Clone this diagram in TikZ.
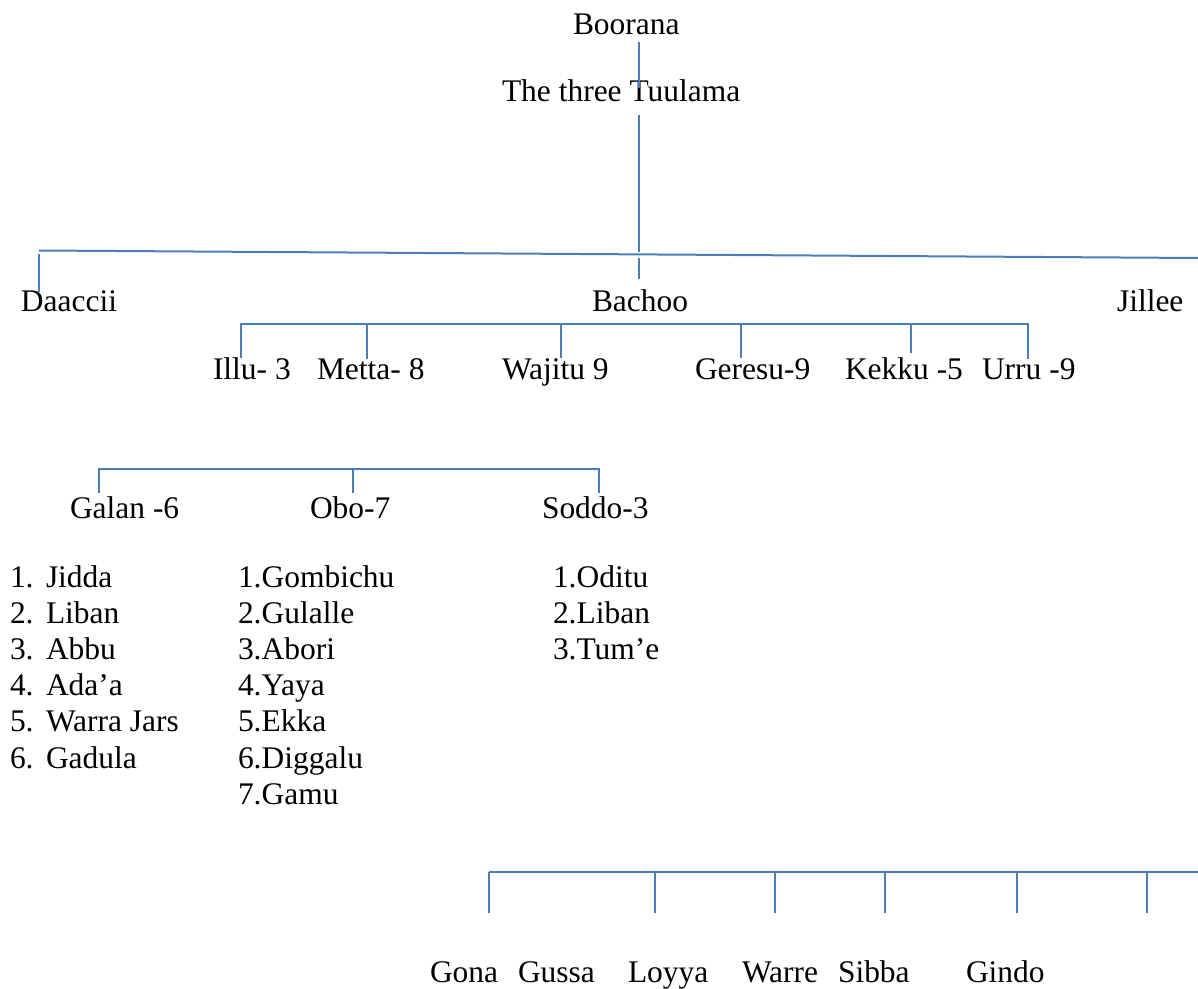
\documentclass[tikz,border=0pt]{standalone}
\usepackage{fontspec}
\setmainfont{Liberation Serif}
\definecolor{linkblue}{RGB}{74,126,187}
\begin{document}
\begin{tikzpicture}[x=0.75pt,y=-0.75pt,
  lbl/.style={anchor=base west,inner sep=0pt,outer sep=0pt,font=\fontsize{23.6}{28}\selectfont},
  link/.style={draw=linkblue,line width=1.5pt,line cap=butt}]
\useasboundingbox (0,0) rectangle (1198,988);

% ---- texts
\node[lbl] (boorana) at (573,35) {Boorana};
\node[lbl] (tuulama) at (502,102) {The three Tuulama};
\node[lbl] (daaccii) at (21,311) {Daaccii};
\node[lbl] (bachoo) at (592,311) {Bachoo};
\node[lbl] (jillee) at (1117,311) {Jillee};

\node[lbl] (illu) at (213,379) {Illu- 3};
\node[lbl] (metta) at (317,379) {Metta- 8};
\node[lbl] (wajitu) at (502,379) {Wajitu 9};
\node[lbl] (geresu) at (695,379) {Geresu-9};
\node[lbl] (kekku) at (845,379) {Kekku -5};
\node[lbl] (urru) at (982,379) {Urru -9};

\node[lbl] (galan) at (70,518) {Galan -6};
\node[lbl] (obo) at (310,518) {Obo-7};
\node[lbl] (soddo) at (542,518) {Soddo-3};

% list 1
\foreach \n/\t [count=\i from 0] in {1/Jidda,2/Liban,3/Abbu,4/Ada’a,5/Warra Jars,6/Gadula}{
  \node[lbl] (ga-n\n) at (10,587+36.2*\i) {\n.};
  \node[lbl] (ga-t\n) at (46,587+36.2*\i) {\t};
}
% list 2
\foreach \t [count=\i from 0] in {1.Gombichu,2.Gulalle,3.Abori,4.Yaya,5.Ekka,6.Diggalu,7.Gamu}{
  \node[lbl] (ob-\i) at (238,587+36.2*\i) {\t};
}
% list 3
\foreach \t [count=\i from 0] in {1.Oditu,2.Liban,3.Tum’e}{
  \node[lbl] (so-\i) at (553,587+36.2*\i) {\t};
}

\node[lbl] (gona) at (430,982) {Gona};
\node[lbl] (gussa) at (518,982) {Gussa};
\node[lbl] (loyya) at (628,982) {Loyya};
\node[lbl] (warre) at (742,982) {Warre};
\node[lbl] (sibba) at (838,982) {Sibba};
\node[lbl] (gindo) at (966,982) {Gindo};

% ---- connectors
\coordinate (c-top1) at (639,42);
\coordinate (c-top2) at (639,88);
\coordinate (c-mid1) at (639,115);
\coordinate (c-mid2) at (639,252);
\draw[link] (c-top1) -- (c-top2);
\draw[link] (c-mid1) -- (c-mid2);

\coordinate (m-l) at (39,250.5);
\coordinate (m-r) at (1198,258);
\draw[link] (m-l) -- (m-r);
\coordinate (d-top) at (39,254);
\coordinate (d-bot) at (39,292);
\draw[link] (d-top) -- (d-bot);
\coordinate (ba-top) at (639,258);
\coordinate (ba-bot) at (639,279);
\draw[link] (ba-top) -- (ba-bot);

% bracket under Bachoo
\draw[link] (241,358) coordinate (v1b) |- (1028,324) coordinate (v6t) -- (1028,359) coordinate (v6b);
\foreach \x/\y in {367/359,561/358,741/358,911/353}{
  \draw[link] (\x,324) coordinate (t-\x) -- (\x,\y) coordinate (b-\x);
}

% bracket for Galan / Obo / Soddo
\draw[link] (99,493) coordinate (g1b) |- (599,469) coordinate (g3t) -- (599,493) coordinate (g3b);
\draw[link] (353,469) coordinate (g2t) -- (353,493) coordinate (g2b);

% bottom bracket
\coordinate (bb-l) at (489,872);
\coordinate (bb-r) at (1198,872);
\draw[link] (bb-l) -- (bb-r);
\foreach \x in {489,655,775,885,1017,1147}{
  \draw[link] (\x,872) coordinate (bt-\x) -- (\x,913) coordinate (bv-\x);
}
\end{tikzpicture}
\end{document}
